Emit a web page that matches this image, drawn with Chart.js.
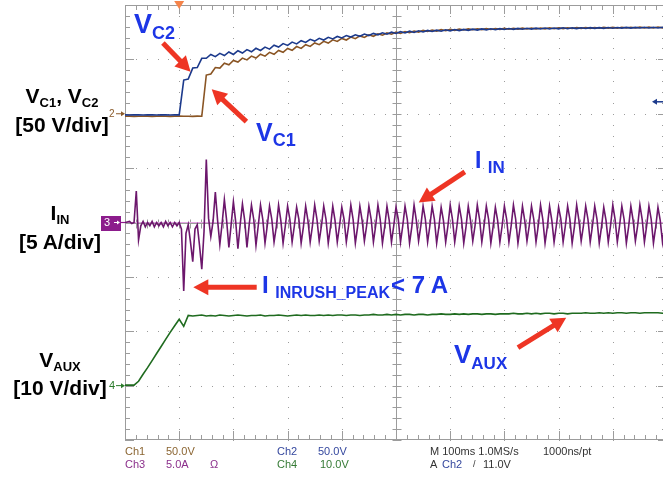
<!DOCTYPE html>
<html>
<head>
<meta charset="utf-8">
<script src="https://cdn.jsdelivr.net/npm/chart.js@4.4.1/dist/chart.umd.min.js"></script>
<style>
html,body{margin:0;padding:0;width:663px;height:481px;overflow:hidden;background:#ffffff;}
#wrap{position:absolute;left:0;top:0;width:672px;height:481px;}
canvas{display:block;}
.t{position:absolute;white-space:nowrap;font-family:"Liberation Sans",Arial,Helvetica,sans-serif;line-height:1;}
.sb{position:relative;}
</style>
</head>
<body>
<div id="wrap"><canvas id="scope" width="672" height="481"></canvas></div>
<script>
// ---------------- DATA ----------------
// time base: 100 ms/div, 10 divisions -> 0..1000 ms
const TIME_MIN_MS = 0;
const TIME_MAX_MS = 1000;
// record interval of the sampled traces
const SAMPLE_MS_V = 25 / 3;   // VC1, VC2, VAUX
const SAMPLE_MS_I = 25 / 6;   // IIN

// Ch1: VC1 [V] (50 V/div)
const vc1 = [-2.3,-2.2,-2.4,-2.3,-2.3,-2.2,-2.4,-2.3,-2.2,-2.3,-2.4,-2.3,-2.2,-2.3,-2.3,-2.4,-2.2,-2.3,
35.6,36.5,42.5,42.0,46.5,45.0,49.0,47.5,51.2,49.5,53.0,51.2,54.8,53.0,56.5,54.7,58.2,56.5,60.0,58.3,61.8,60.1,
63.5,61.9,65.1,63.5,66.6,65.0,68.0,66.5,69.3,67.8,70.5,69.0,71.6,70.2,72.6,71.2,73.5,72.2,74.3,73.1,75.0,73.8,
75.6,74.5,76.1,75.1,76.6,75.6,77.0,76.0,77.3,76.4,77.6,76.7,77.8,77.0,78.0,77.2,78.2,77.4,78.3,77.5,78.4,77.6,
78.5,77.7,78.6,77.8,78.7,77.9,78.8,78.0,78.9,78.1,79.0,78.2,79.1,78.3,79.1,78.4,79.2,78.5,79.3,78.5,79.3,78.6,
79.4,78.7,79.4,78.7,79.5,78.8,79.5,78.8,79.6,78.9,79.6,78.9,79.7,79.0,79.7];

// Ch2: VC2 [V] (50 V/div)
const vc2 = [-1.0,-1.1,-0.9,-1.0,-1.2,-1.0,-0.9,-1.1,-1.0,-1.0,-1.1,-0.9,-1.0,
31.0,32.0,42.0,42.5,51.0,51.0,54.5,52.5,55.5,53.5,56.8,54.5,58.0,55.8,59.0,57.0,60.2,58.2,61.3,59.4,63.0,61.3,
64.5,62.8,65.9,64.2,67.2,65.6,68.4,66.8,69.4,67.8,70.3,68.8,71.1,69.7,71.9,70.5,72.6,71.2,73.3,71.9,73.9,72.6,
74.5,73.2,75.0,73.8,75.5,74.3,75.9,74.8,76.3,75.2,76.6,75.6,76.9,75.9,77.2,76.2,77.4,76.5,77.6,76.7,77.8,76.9,
78.0,77.1,78.2,77.3,78.3,77.5,78.4,77.6,78.5,77.7,78.6,77.8,78.7,77.9,78.8,78.0,78.9,78.1,79.0,78.2,79.0,78.3,
79.1,78.4,79.2,78.5,79.2,78.5,79.3,78.6,79.3,78.7,79.4,78.7,79.4,78.8,79.5,78.9,79.5,78.9,79.6,79.0];

// Ch3: IIN [A] (5 A/div)
const iin = [0.0,0.05,0.1,-0.1,0.0,2.9,-1.6,-0.3,0.1,-0.4,0.0,-0.3,0.1,-0.4,0.0,-0.3,0.0,-0.4,0.1,-0.3,
0.0,-0.4,0.0,-0.3,0.0,-0.6,-6.3,-1.0,-0.2,-1.8,-3.6,-0.6,-0.2,-2.1,-4.3,-0.8,
5.8,0.4,-1.3,0.1,2.8,0.2,-2.0,-0.1,2.1,0.2,-2.3,-0.2,1.9,0.1,-2.4,-0.2,1.7,0.2,-2.3,-0.2,1.6,0.3,-2.1,-0.3,1.6,
0.3,-1.9,-0.3,1.5, 0.3,-1.8,-0.4,1.6, 0.2,-1.9,-0.3,1.5, 0.3,-1.8,-0.3,1.4, 0.3,-1.9,-0.4,1.5,
0.2,-1.8,-0.3,1.6, 0.3,-1.7,-0.3,1.5, 0.3,-1.9,-0.4,1.5, 0.2,-1.8,-0.3,1.4, 0.3,-1.8,-0.3,1.6,
0.3,-1.9,-0.4,1.5, 0.2,-1.7,-0.3,1.5, 0.3,-1.8,-0.3,1.6, 0.3,-1.9,-0.4,1.5, 0.2,-1.8,-0.3,1.4,
0.3,-1.8,-0.3,1.5, 0.3,-1.9,-0.4,1.6, 0.2,-1.7,-0.3,1.5, 0.3,-1.8,-0.3,1.5, 0.3,-1.9,-0.4,1.4,
0.2,-1.8,-0.3,1.6, 0.3,-1.8,-0.3,1.5, 0.3,-1.9,-0.4,1.5, 0.2,-1.7,-0.3,1.6, 0.3,-1.8,-0.3,1.5,
0.3,-1.9,-0.4,1.4, 0.2,-1.8,-0.3,1.5, 0.3,-1.8,-0.3,1.6, 0.3,-1.9,-0.4,1.5, 0.2,-1.7,-0.3,1.5,
0.3,-1.8,-0.3,1.6, 0.3,-1.9,-0.4,1.5, 0.2,-1.8,-0.3,1.4, 0.3,-1.8,-0.3,1.5, 0.3,-1.9,-0.4,1.6,
0.2,-1.7,-0.3,1.5, 0.3,-1.8,-0.3,1.5, 0.3,-1.9,-0.4,1.4, 0.2,-1.8,-0.3,1.6, 0.3,-1.8,-0.3,1.5,
0.3,-1.9,-0.4,1.5, 0.2,-1.7,-0.3,1.6, 0.3,-1.8,-0.3,1.5, 0.3,-1.9,-0.4,1.4, 0.2,-1.8,-0.3,1.5];

// Ch4: VAUX [V] (10 V/div)
const vaux = [0.1,0.1,0.1,0.8,2.1,3.3,4.6,5.9,7.2,8.5,9.8,11.0,12.2,10.9,12.9,12.8,12.9,13.0,12.8,12.9,
12.8,13.0,12.9,12.8,12.9,13.0,12.9,12.8,12.9,12.9,13.0,12.8,12.9,12.9,13.0,12.9,12.8,12.9,13.0,12.9,
13.0,12.9,12.9,13.0,12.9,13.0,12.9,13.0,13.0,12.9,13.0,13.0,12.9,13.0,13.0,13.1,13.0,13.0,13.1,13.0,
13.1,13.0,13.1,13.1,13.0,13.1,13.1,13.0,13.1,13.1,13.2,13.1,13.1,13.2,13.1,13.2,13.1,13.2,13.2,13.1,
13.2,13.2,13.1,13.2,13.2,13.2,13.3,13.2,13.2,13.3,13.2,13.3,13.2,13.3,13.3,13.2,13.3,13.3,13.2,13.3,
13.3,13.3,13.4,13.3,13.3,13.4,13.3,13.4,13.3,13.4,13.4,13.3,13.4,13.4,13.3,13.4,13.4,13.4,13.4,13.3,13.4];

// channel scale windows (volts/amps at bottom & top of the 8-division screen)
const VC_RANGE = [-300, 100];   // 50 V/div, ch1/ch2 ground 2 div below top
const IIN_RANGE = [-20, 20];    // 5 A/div, ch3 ground at centre
const VAUX_RANGE = [-10, 70];   // 10 V/div, ch4 ground 1 div above bottom
const TRIGGER_TIME_MS = 100;
const TRIGGER_LEVEL_V = 11.0;

// annotation arrows: [time ms, value] on a channel axis
const annotationArrows = [
  {axis:'yVC', from:[70, 65], to:[121, 38.7]},
  {axis:'yVC', from:[224, -7.3], to:[160, 22.5]},
  {axis:'yI', from:[627, 4.65], to:[542, 1.85]},
  {axis:'yI', from:[243, -5.95], to:[126, -5.95]},
  {axis:'yAux', from:[725, 7.0], to:[814, 12.5]}
];

// ---------------- rendering ----------------
const toXY = (arr, dt) => arr.map((v, i) => ({x: i * dt, y: v}));

function arrow(ctx, x1, y1, x2, y2, w, hl, hw, color) {
  const a = Math.atan2(y2 - y1, x2 - x1);
  const c = Math.cos(a), s = Math.sin(a);
  const bx = x2 - hl * c, by = y2 - hl * s;
  ctx.strokeStyle = color; ctx.fillStyle = color; ctx.lineWidth = w; ctx.lineCap = 'butt';
  ctx.beginPath(); ctx.moveTo(x1, y1); ctx.lineTo(bx + c, by + s); ctx.stroke();
  ctx.beginPath(); ctx.moveTo(x2, y2);
  ctx.lineTo(bx + hw / 2 * s, by - hw / 2 * c);
  ctx.lineTo(bx - hw / 2 * s, by + hw / 2 * c);
  ctx.closePath(); ctx.fill();
}

const GRID = '#9c9c9c';
const scopePlugin = {
  id: 'scope',
  beforeDatasetsDraw(chart) {
    const {ctx, chartArea: a, scales} = chart;
    const px = v => Math.round(scales.x.getPixelForValue(v));
    const py = v => Math.round(scales.yI.getPixelForValue(v));
    ctx.save();
    ctx.fillStyle = GRID;
    for (let t = 100; t < 1000; t += 100) {
      if (t === 500) continue;
      const x = px(t);
      for (let v = -20; v <= 20; v += 1) ctx.fillRect(x, py(v), 1, 1);
    }
    for (let v = -15; v < 20; v += 5) {
      if (v === 0) continue;
      const y = py(v);
      for (let t = 0; t <= 1000; t += 20) ctx.fillRect(px(t), y, 1, 1);
    }
    ctx.strokeStyle = GRID; ctx.lineWidth = 1;
    const cx = px(500) + 0.5, cy = py(0) + 0.5;
    const L = (x1, y1, x2, y2) => { ctx.beginPath(); ctx.moveTo(x1, y1); ctx.lineTo(x2, y2); ctx.stroke(); };
    L(cx, a.top, cx, a.bottom); L(a.left, cy, a.right, cy);
    for (let v = -20; v <= 20; v += 1) { const y = py(v) + 0.5; L(cx - 4, y, cx + 5, y); }
    for (let t = 0; t <= 1000; t += 20) { const x = px(t) + 0.5; L(x, cy - 4, x, cy + 5); }
    // border with inward ticks
    ctx.strokeRect(a.left + 0.5, a.top + 0.5, a.right - a.left - 1, a.bottom - a.top - 1);
    for (let t = 0; t <= 1000; t += 20) {
      const x = px(t) + 0.5, len = (t % 100 === 0) ? 9 : 5;
      L(x, a.top, x, a.top + len); L(x, a.bottom, x, a.bottom - len);
    }
    for (let v = -20; v <= 20; v += 1) {
      const y = py(v) + 0.5, len = (v % 5 === 0) ? 9 : 5;
      L(a.left, y, a.left + len, y); L(a.right, y, a.right - len, y);
    }
    // ch3 ground reference line (pink)
    ctx.strokeStyle = '#e3a6e3'; ctx.lineWidth = 1.2;
    const y3 = scales.yI.getPixelForValue(0);
    L(a.left, y3, a.right, y3);
    ctx.restore();
  },
  afterDatasetsDraw(chart) {
    const {ctx, chartArea: a, scales} = chart;
    ctx.save();
    // annotation arrows
    annotationArrows.forEach(ar => {
      const s = scales[ar.axis];
      arrow(ctx, scales.x.getPixelForValue(ar.from[0]), s.getPixelForValue(ar.from[1]),
            scales.x.getPixelForValue(ar.to[0]), s.getPixelForValue(ar.to[1]), 5, 15, 16, '#ee3524');
    });
    // channel ground markers
    const y2 = scales.yVC.getPixelForValue(0);
    arrow(ctx, 116, y2, a.left, y2, 1, 4, 5, '#8a5a2a');
    const y3 = scales.yI.getPixelForValue(0);
    ctx.fillStyle = '#8c1c8c'; ctx.fillRect(101, Math.round(y3) - 7, 20, 15);
    arrow(ctx, 114, y3, 120, y3, 1, 3, 4, '#ffffff');
    ctx.strokeStyle = '#8c1c8c'; ctx.lineWidth = 1.2;
    ctx.beginPath(); ctx.moveTo(121, y3); ctx.lineTo(a.left, y3); ctx.stroke();
    const y4 = scales.yAux.getPixelForValue(0);
    arrow(ctx, 116, y4, a.left, y4, 1, 4, 5, '#2a7a2a');
    // trigger level (right) and trigger position (top)
    const yt = scales.yVC.getPixelForValue(TRIGGER_LEVEL_V);
    arrow(ctx, 664, yt, 652, yt, 1.5, 5, 6, '#1c3a8c');
    const xt = scales.x.getPixelForValue(TRIGGER_TIME_MS);
    ctx.fillStyle = '#f4834a';
    ctx.beginPath(); ctx.moveTo(xt - 5, 1); ctx.lineTo(xt + 5, 1); ctx.lineTo(xt, 9); ctx.closePath(); ctx.fill();
    ctx.restore();
  }
};

const chart = new Chart(document.getElementById('scope'), {
  type: 'line',
  data: {
    datasets: [
      {label: 'VC2', data: toXY(vc2, SAMPLE_MS_V), yAxisID: 'yVC', borderColor: '#1c3a8c', borderWidth: 1.6},
      {label: 'VC1', data: toXY(vc1, SAMPLE_MS_V), yAxisID: 'yVC', borderColor: '#8a5524', borderWidth: 1.6},
      {label: 'IIN', data: toXY(iin, SAMPLE_MS_I), yAxisID: 'yI', borderColor: '#6c176c', borderWidth: 1.6},
      {label: 'VAUX', data: toXY(vaux, SAMPLE_MS_V), yAxisID: 'yAux', borderColor: '#1f6b1f', borderWidth: 1.6}
    ]
  },
  options: {
    responsive: false, animation: false, devicePixelRatio: 1,
    layout: {padding: {left: 125, right: 5, top: 5, bottom: 41}},
    elements: {point: {radius: 0}, line: {tension: 0, fill: false}},
    plugins: {legend: {display: false}, tooltip: {enabled: false}},
    scales: {
      x: {type: 'linear', min: TIME_MIN_MS, max: TIME_MAX_MS, display: false},
      yVC: {type: 'linear', min: VC_RANGE[0], max: VC_RANGE[1], display: false},
      yI: {type: 'linear', min: IIN_RANGE[0], max: IIN_RANGE[1], display: false},
      yAux: {type: 'linear', min: VAUX_RANGE[0], max: VAUX_RANGE[1], display: false}
    }
  },
  plugins: [scopePlugin]
});

// ---------------- text (HTML) ----------------
const wrap = document.getElementById('wrap');
function addText(html, x, baseline, size, color, bold, center) {
  const d = document.createElement('div');
  d.className = 't';
  d.innerHTML = html;
  d.style.fontSize = size + 'px';
  d.style.color = color;
  if (bold) d.style.fontWeight = 'bold';
  d.style.top = (baseline - 0.8465 * size) + 'px';
  d.style.left = x + 'px';
  if (center) d.style.transform = 'translateX(-50%)';
  wrap.appendChild(d);
}
const sub = (s, size, dy) => `<span class="sb" style="font-size:${size}px;top:${dy}px">${s}</span>`;

// left axis labels
addText(`V${sub('C1', 13, 4)}, V${sub('C2', 13, 4)}`, 62, 103, 21, '#000', true, true);
addText('[50 V/div]', 62, 132, 21, '#000', true, true);
addText(`I${sub('IN', 13, 4)}`, 60, 220, 21, '#000', true, true);
addText('[5 A/div]', 60, 249, 21, '#000', true, true);
addText(`V${sub('AUX', 13, 4)}`, 60, 367, 21, '#000', true, true);
addText('[10 V/div]', 60, 395, 21, '#000', true, true);

// blue annotations
const BLUE = '#1d36e6';
addText(`V${sub('C2', 18, 6)}`, 134, 34, 27, BLUE, true);
addText(`V${sub('C1', 18, 5)}`, 256, 141, 25, BLUE, true);
addText(`I&nbsp;${sub('IN', 17, 5)}`, 475, 168, 23, BLUE, true);
addText(`I&nbsp;${sub('INRUSH_PEAK', 16, 5)}`, 262, 293, 24, BLUE, true);
addText('&lt; 7 A', 391, 293, 24, BLUE, true);
addText(`V${sub('AUX', 17, 6)}`, 454, 363, 26, BLUE, true);

// channel marker digits
const s = chart.scales;
addText('2', 109, s.yVC.getPixelForValue(0) + 4, 10, '#8a5a2a');
addText('3', 104, s.yI.getPixelForValue(0) + 4, 11, '#ffffff');
addText('4', 109, s.yAux.getPixelForValue(0) + 4, 11, '#2a7a2a');

// status readout
const BR = '#8b6532', PU = '#8b2f8b', BL = '#34479e', GR = '#357a35', DK = '#333333';
addText('Ch1', 125, 455, 11, BR); addText('50.0V', 166, 455, 11, BR);
addText('Ch3', 125, 468, 11, PU); addText('5.0A', 166, 468, 11, PU); addText('Ω', 210, 468, 11, PU);
addText('Ch2', 277, 455, 11, BL); addText('50.0V', 318, 455, 11, BL);
addText('Ch4', 277, 468, 11, GR); addText('10.0V', 320, 468, 11, GR);
addText('M 100ms 1.0MS/s', 430, 455, 11, DK); addText('1000ns/pt', 543, 455, 11, DK);
addText('A', 430, 468, 11, DK); addText('Ch2', 442, 468, 11, BL);
addText('/', 473, 468, 9, DK); addText('11.0V', 483, 468, 11, DK);
</script>
</body>
</html>
